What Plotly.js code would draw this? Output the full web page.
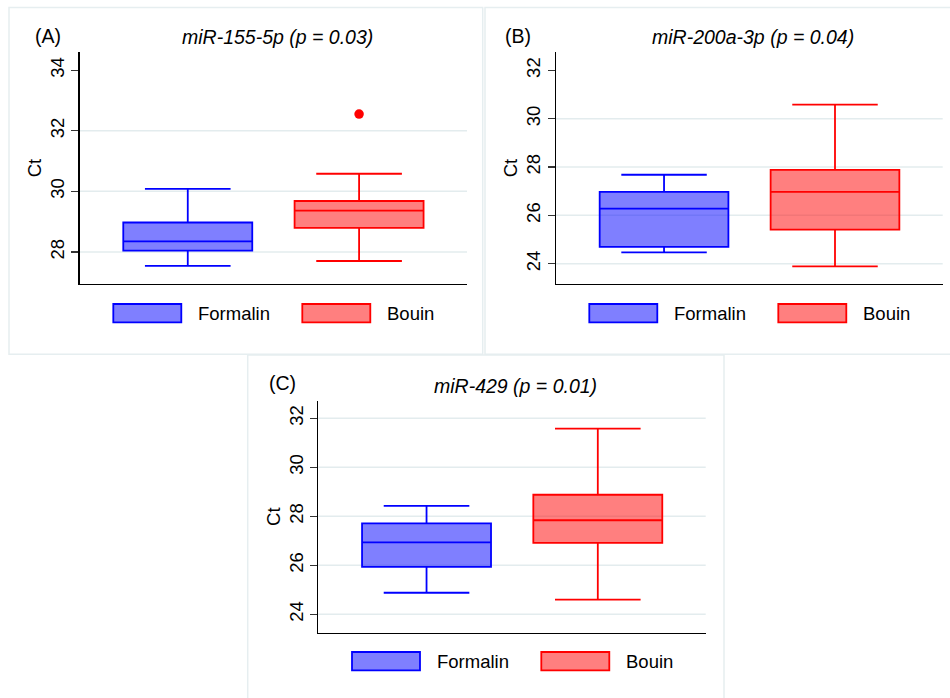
<!DOCTYPE html>
<html>
<head>
<meta charset="utf-8">
<script src="https://cdn.plot.ly/plotly-3.0.1.min.js"></script>
<style>html,body{margin:0;padding:0;background:#fff;}#chart{width:950px;height:698px;}</style>
</head>
<body>
<div id="chart"></div>
<script>
// ---------- data ----------
const categories = ['Formalin', 'Bouin'];

// Panel A: miR-155-5p
const aTitle = 'miR-155-5p (p = 0.03)';
const aLower  = [27.54, 27.70];
const aQ1     = [28.04, 28.79];
const aMedian = [28.35, 29.36];
const aQ3     = [28.97, 29.68];
const aUpper  = [30.08, 30.58];
const aOutlierX = ['Bouin'];
const aOutlierY = [32.55];
const aTicks = [28, 30, 32, 34];
const aGrid  = [28, 30, 32];

// Panel B: miR-200a-3p
const bTitle = 'miR-200a-3p (p = 0.04)';
const bLower  = [24.47, 23.89];
const bQ1     = [24.70, 25.41];
const bMedian = [26.28, 26.97];
const bQ3     = [26.97, 27.88];
const bUpper  = [27.68, 30.58];
const bTicks = [24, 26, 28, 30, 32];
const bGrid  = [24, 26, 28, 30];

// Panel C: miR-429
const cTitle = 'miR-429 (p = 0.01)';
const cLower  = [24.88, 24.60];
const cQ1     = [25.94, 26.92];
const cMedian = [26.94, 27.84];
const cQ3     = [27.71, 28.88];
const cUpper  = [28.43, 31.58];
const cTicks = [24, 26, 28, 30, 32];
const cGrid  = [24, 26, 28, 30, 32];

const panelLabels = ['(A)', '(B)', '(C)'];
const yLabel = 'Ct';

// ---------- styles ----------
const W = 950, H = 698;
const FONT = 'Liberation Sans, Arial, Helvetica, sans-serif';
const lineColors = ['#0000ff', '#ff0000'];
const fillColors = ['rgba(0,0,255,0.5)', 'rgba(255,0,0,0.5)'];
const px = x => x / W;
const py = y => 1 - y / H;

const panels = [
  {ax: '', title: aTitle, lower: aLower, q1: aQ1, med: aMedian, q3: aQ3, upper: aUpper,
   ticks: aTicks, grid: aGrid, yr: [26.94, 34.6],
   plot: {l: 79.5, r: 467, t: 52, b: 284}, titleX: 277, titleY: 37, labX: 33, labY: 36.5,
   leg: {k1: 113.3, t1: 196, k2: 302.3, t2: 385, top: 304, bot: 322.3},
   border: {l: 9, r: 482.7, t: 7.5, b: 354.3}},
  {ax: '2', title: bTitle, lower: bLower, q1: bQ1, med: bMedian, q3: bQ3, upper: bUpper,
   ticks: bTicks, grid: bGrid, yr: [23.16, 32.76],
   plot: {l: 556, r: 942.7, t: 52, b: 284}, titleX: 753.3, titleY: 37, labX: 502.7, labY: 36.5,
   leg: {k1: 589.3, t1: 672.3, k2: 778.3, t2: 861, top: 304, bot: 322.3},
   border: {l: 485, r: 953, t: 7.5, b: 354.3}},
  {ax: '3', title: cTitle, lower: cLower, q1: cQ1, med: cMedian, q3: cQ3, upper: cUpper,
   ticks: cTicks, grid: cGrid, yr: [23.25, 32.72],
   plot: {l: 318.3, r: 705.7, t: 400.7, b: 632.7}, titleX: 515.8, titleY: 386.5, labX: 267.3, labY: 382.5,
   leg: {k1: 352, t1: 435, k2: 541.3, t2: 624, top: 652, bot: 670.3},
   border: {l: 247.7, r: 724, t: 355, b: 702}}
];

const traces = [];
const layout = {
  width: W, height: H,
  margin: {l: 0, r: 0, t: 0, b: 0},
  paper_bgcolor: '#ffffff', plot_bgcolor: 'rgba(0,0,0,0)',
  showlegend: false,
  boxmode: 'overlay',
  font: {family: FONT, size: 18, color: '#000'},
  shapes: [], annotations: []
};

panels.forEach((p, pi) => {
  const xa = 'x' + p.ax, ya = 'y' + p.ax;
  categories.forEach((cat, i) => {
    traces.push({
      type: 'box', name: cat, x: [cat],
      q1: [p.q1[i]], median: [p.med[i]], q3: [p.q3[i]],
      lowerfence: [p.lower[i]], upperfence: [p.upper[i]],
      boxpoints: false, width: 0.753, whiskerwidth: 0.664,
      fillcolor: fillColors[i], line: {color: lineColors[i], width: 1.8},
      xaxis: xa, yaxis: ya, hoverinfo: 'skip'
    });
  });
  if (pi === 0) {
    traces.push({
      type: 'scatter', mode: 'markers', x: aOutlierX, y: aOutlierY,
      marker: {color: '#ff0000', size: 9.5, line: {width: 0}},
      xaxis: xa, yaxis: ya, hoverinfo: 'skip'
    });
  }
  layout['xaxis' + p.ax] = {
    domain: [px(p.plot.l), px(p.plot.r)], anchor: ya,
    type: 'category', categoryarray: categories, categoryorder: 'array',
    range: [-0.632, 1.63], showticklabels: false, ticks: '',
    showline: true, linecolor: '#000', linewidth: 1.3,
    showgrid: false, zeroline: false, fixedrange: true
  };
  layout['yaxis' + p.ax] = {
    domain: [py(p.plot.b), py(p.plot.t)], anchor: xa,
    range: p.yr, tickvals: p.ticks, ticktext: p.ticks.map(String),
    ticks: 'outside', ticklen: 7, tickwidth: 1.3, tickcolor: '#333',
    tickangle: -90, tickfont: {size: 18.5, family: FONT},
    showline: true, linecolor: '#000', linewidth: 1.3,
    showgrid: false, zeroline: false, fixedrange: true,
    title: {text: yLabel, font: {size: 18.5, family: FONT}, standoff: 0}
  };
  // gridlines
  p.grid.forEach(g => layout.shapes.push({
    type: 'line', xref: xa + ' domain', yref: ya, x0: 0, x1: 1, y0: g, y1: g,
    line: {color: '#e3ecee', width: 1.5}, layer: 'below'
  }));
  // panel border
  layout.shapes.push({
    type: 'rect', xref: 'paper', yref: 'paper',
    x0: px(p.border.l), x1: px(p.border.r), y0: py(p.border.b), y1: py(p.border.t),
    line: {color: '#e6eef0', width: 1.5}, layer: 'below'
  });
  // legend keys
  [p.leg.k1, p.leg.k2].forEach((k, i) => layout.shapes.push({
    type: 'rect', xref: 'paper', yref: 'paper',
    x0: px(k), x1: px(k + 68), y0: py(p.leg.bot), y1: py(p.leg.top),
    fillcolor: fillColors[i], line: {color: lineColors[i], width: 1.8}
  }));
  [p.leg.t1, p.leg.t2].forEach((t, i) => layout.annotations.push({
    xref: 'paper', yref: 'paper', x: px(t), y: py((p.leg.top + p.leg.bot) / 2),
    xanchor: 'left', yanchor: 'middle', showarrow: false,
    text: categories[i], font: {size: 18.5, family: FONT, color: '#000'}
  }));
  // titles
  layout.annotations.push({
    xref: 'paper', yref: 'paper', x: px(p.titleX), y: py(p.titleY),
    xanchor: 'center', yanchor: 'middle', showarrow: false,
    text: '<i>' + p.title + '</i>', font: {size: 19.5, family: FONT, color: '#000'}
  });
  layout.annotations.push({
    xref: 'paper', yref: 'paper', x: px(p.labX), y: py(p.labY),
    xanchor: 'left', yanchor: 'middle', showarrow: false,
    text: panelLabels[pi], font: {size: 19.5, family: FONT, color: '#000'}
  });
});

Plotly.newPlot('chart', traces, layout, {displayModeBar: false, staticPlot: true});
</script>
</body>
</html>
